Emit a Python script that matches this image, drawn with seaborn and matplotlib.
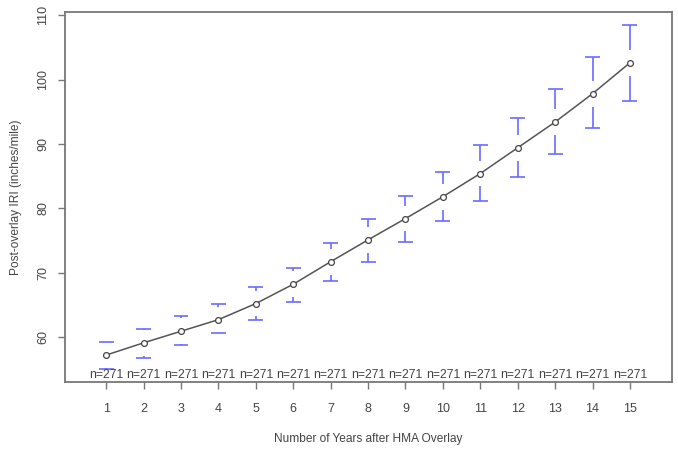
import numpy as np
import pandas as pd
import matplotlib
matplotlib.use("Agg")
import matplotlib.pyplot as plt
import seaborn as sns

# Mean post-overlay IRI by year with confidence limits
years = list(range(1, 16))
mean_iri = [57.2, 59.1, 60.9, 62.7, 65.2, 68.2, 71.7, 75.1, 78.4, 81.8,
            85.4, 89.4, 93.4, 97.8, 102.6]
upper_ci = [59.3, 61.2, 63.2, 65.1, 67.8, 70.7, 74.6, 78.3, 81.9, 85.7,
            89.8, 94.0, 98.5, 103.5, 108.4]
lower_ci = [55.1, 56.8, 58.7, 60.6, 62.7, 65.5, 68.7, 71.7, 74.8, 78.0,
            81.2, 84.9, 88.5, 92.5, 96.6]
counts = [271] * 15
yticks = [60, 70, 80, 90, 100, 110]

df = pd.DataFrame({"year": years, "iri": mean_iri,
                   "lo": lower_ci, "hi": upper_ci, "n": counts})

sns.set_style("white")
plt.rcParams["font.family"] = ["Liberation Sans", "DejaVu Sans"]

fig = plt.figure(figsize=(6.78, 4.49), dpi=100)
ax = fig.add_axes([0.0959, 0.149, 0.895, 0.824])

text_col = "#444444"
box_col = "#777777"
ci_col = "#6b6bff"

# confidence interval arms, leaving a gap around each mean marker
gap = 2.0
cap = 0.2
x = df["year"].to_numpy()
m = df["iri"].to_numpy()
hi = df["hi"].to_numpy()
lo = df["lo"].to_numpy()
up_ok = hi > m + gap
lo_ok = lo < m - gap
ax.vlines(x[up_ok], (m + gap)[up_ok], hi[up_ok], color=ci_col, lw=1.2)
ax.vlines(x[lo_ok], lo[lo_ok], (m - gap)[lo_ok], color=ci_col, lw=1.2)
ax.hlines(hi, x - cap, x + cap, color=ci_col, lw=1.2)
ax.hlines(lo, x - cap, x + cap, color=ci_col, lw=1.2)

sns.lineplot(data=df, x="year", y="iri", ax=ax, color="#555555", lw=1.1,
             marker="o", markersize=4.2, markerfacecolor="white",
             markeredgecolor="#444444", markeredgewidth=0.9)

for xi, ni in zip(df["year"], df["n"]):
    ax.text(xi, 54.1, f"n={ni}", ha="center", va="center",
            fontsize=8.8, color=text_col)

ax.set_xlim(-0.1, 16.12)
ax.set_ylim(53.0, 110.47)
ax.set_xticks(years)
ax.set_xticklabels([str(v) for v in years])
ax.set_yticks(yticks)
ax.set_yticklabels([str(v) for v in yticks], rotation=90, va="center")

for s in ax.spines.values():
    s.set_visible(True)
    s.set_color(box_col)
    s.set_linewidth(1.3)

ax.tick_params(axis="both", direction="out", length=5, width=1,
               color=box_col, labelcolor=text_col, labelsize=9,
               bottom=True, left=True)
ax.tick_params(axis="x", pad=10)
ax.tick_params(axis="y", pad=6.5)

ax.set_xlabel("Number of Years after HMA Overlay", fontsize=8.6,
              color=text_col, labelpad=13)
ax.set_ylabel("Post-overlay IRI (inches/mile)", fontsize=8.6,
              color=text_col, labelpad=10.5)

fig.savefig("out.png", dpi=100)
